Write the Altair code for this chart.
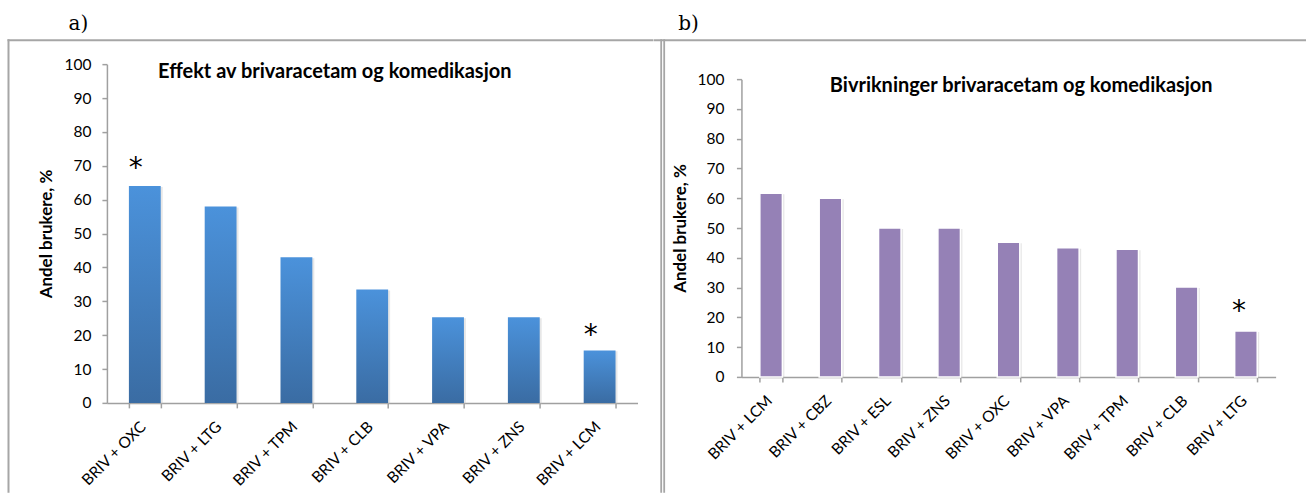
import altair as alt
import pandas as pd

# ---------------- data ----------------
cats_a = ["BRIV + OXC", "BRIV + LTG", "BRIV + TPM", "BRIV + CLB",
          "BRIV + VPA", "BRIV + ZNS", "BRIV + LCM"]
vals_a = [64.0, 58.0, 43.0, 33.5, 25.3, 25.3, 15.5]
stars_a = [71.5, None, None, None, None, None, 22.0]

cats_b = ["BRIV + LCM", "BRIV + CBZ", "BRIV + ESL", "BRIV + ZNS", "BRIV + OXC",
          "BRIV + VPA", "BRIV + TPM", "BRIV + CLB", "BRIV + LTG"]
vals_b = [61.7, 60.0, 50.0, 50.0, 45.2, 43.4, 42.9, 30.2, 15.4]
stars_b = [None, None, None, None, None, None, None, None, 24.5]

title_a = "Effekt av brivaracetam og komedikasjon"
title_b = "Bivrikninger brivaracetam og komedikasjon"
y_title = "Andel brukere, %"
y_ticks = [0, 10, 20, 30, 40, 50, 60, 70, 80, 90, 100]

AXIS_GREY = "#A0A0A0"
FRAME_GREY = "#A6A6A6"
FONT = "Lato"


def rect(x1, x2, y1, y2, color, opacity=1.0):
    return alt.Chart(pd.DataFrame({"k": [0]})).mark_rect(
        color=color, opacity=opacity
    ).encode(x=alt.value(x1), x2=alt.value(x2), y=alt.value(y1), y2=alt.value(y2))


def label(text, x, y, font, size, weight="normal", align="center"):
    return alt.Chart(pd.DataFrame({"k": [0]})).mark_text(
        text=text, font=font, fontSize=size, fontWeight=weight, align=align,
        baseline="alphabetic", color="#000000"
    ).encode(x=alt.value(x), y=alt.value(y))


def panel(cats, vals, stars, w, h, y_range, title_y, pin, pout, bar_kwargs,
          star_dx, title, tx, ty, tag, gx, gy, cell, frames, lab_pad_y):
    df = pd.DataFrame({"cat": cats, "val": vals, "star": stars})
    x_axis = alt.Axis(
        title=None, labelAngle=-45, tickBand="extent", tickSize=5,
        tickColor=AXIS_GREY, domainColor=AXIS_GREY, domainWidth=1.5,
        tickWidth=1.5, labelFont=FONT, labelFontSize=15.5,
        labelColor="#000000", labelPadding=11, labelOffset=-7,
    )
    y_axis = alt.Axis(
        values=y_ticks, title=y_title, titleFont=FONT, titleFontSize=17,
        titleFontWeight="bold", titleColor="#000000", titlePadding=8,
        titleY=title_y,
        labelFont=FONT, labelFontSize=15.5, labelColor="#000000",
        labelPadding=lab_pad_y, tickSize=5, tickColor=AXIS_GREY,
        tickWidth=1.5, domainColor=AXIS_GREY, domainWidth=1.5, grid=False,
    )
    x_scale = alt.Scale(paddingInner=pin, paddingOuter=pout)
    y_scale = alt.Scale(domain=[0, 100], nice=False, range=y_range)
    x_enc = alt.X("cat:N", sort=cats, scale=x_scale, axis=x_axis)

    shadow = alt.Chart(df).mark_bar(
        color="#BBBBBB", opacity=0.35, xOffset=2, yOffset=1
    ).encode(x=x_enc, y=alt.Y("val:Q", scale=y_scale, axis=y_axis))
    bars = alt.Chart(df).mark_bar(**bar_kwargs).encode(
        x=x_enc, y=alt.Y("val:Q", scale=y_scale, axis=y_axis),
    )
    star_marks = alt.Chart(df).mark_text(
        text="*", font="DejaVu Sans", fontSize=28, baseline="alphabetic",
        dx=star_dx, dy=16, color="#000000"
    ).encode(x=x_enc, y=alt.Y("star:Q", scale=y_scale, axis=y_axis))

    layers = [rect(*cell, color="#FFFFFF", opacity=0.0)]
    layers += [rect(*f, color=FRAME_GREY) for f in frames]
    layers += [shadow, bars, star_marks,
               label(title, tx, ty, FONT, 20, weight="bold"),
               label(tag, gx, gy, "DejaVu Serif", 20)]
    return alt.layer(*layers).properties(width=w, height=h)


blue_gradient = alt.LinearGradient(
    gradient="linear",
    stops=[alt.GradientStop(color="#4B92DB", offset=0),
           alt.GradientStop(color="#3A6CA3", offset=1)],
    x1=0, x2=0, y1=0, y2=1,
)

# both panels have their group origin at window y = 79
# panel a: origin x = 106.5, axis 0..100 spans window y 403..64
pa = panel(
    cats_a, vals_a, stars_a, 531, 324, [324, -15], 154.5, 0.58, 0.29,
    dict(color=blue_gradient), -9,
    title_a, 228, -0.7, "a)", -28.5, -49.5,
    cell=(-106.5, 546.5, -79, 414),
    frames=[(-99.5, 546.5, -40, -38), (-99.5, -97.5, -40, 414)],
    lab_pad_y=11,
)

# panel b: origin x = 741, axis 0..100 spans window y 377..79
pb = panel(
    cats_b, vals_b, stars_b, 534.6, 298, [298, 0], 149, 0.62, 0.31,
    dict(color="#9581B6", stroke="#FFFFFF", strokeWidth=1.5), -7,
    title_b, 280, 12.7, "b)", -53, -49.5,
    cell=(-88, 565, -79, 414),
    frames=[(-88, 565, -40, -38), (-81.2, -79.4, -40, 414), (-78.2, -76.4, -40, 414)],
    lab_pad_y=12.5,
)

chart = alt.hconcat(pa, pb, spacing=0).properties(
    padding=0, background="#FFFFFF"
).configure_view(stroke=None)

chart.save("out.html", embed_options={"renderer": "svg", "actions": False})
